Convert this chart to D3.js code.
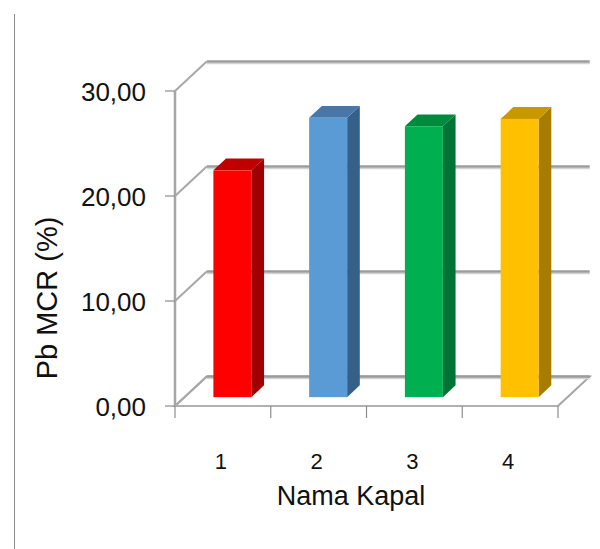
<!DOCTYPE html>
<html>
<head>
<meta charset="utf-8">
<script src="https://cdn.jsdelivr.net/npm/d3@7"></script>
<style>
  html, body { margin: 0; padding: 0; background: #fff; }
  svg { display: block; }
  text { font-family: "Liberation Sans", Arial, sans-serif; fill: #111; }
</style>
</head>
<body>
<script>
// ---- data ----
const categories = ["1", "2", "3", "4"];
const values = [21.6, 26.6, 25.8, 26.5];
const yTicks = [0, 10, 20, 30];
const yTickLabels = ["0,00", "10,00", "20,00", "30,00"];
const yTitle = "Pb MCR (%)";
const xTitle = "Nama Kapal";
const frontColors = ["#FF0000", "#5B9BD5", "#00B050", "#FFC000"];
const sideColors  = ["#A00000", "#376089", "#007434", "#A87C00"];
const topColors   = ["#C00000", "#4677A8", "#008A3E", "#C99700"];

// ---- layout ----
const W = 600, H = 549;
const svg = d3.select("body").append("svg").attr("width", W).attr("height", H);

const x0 = 175, x1 = 558;          // front plane x-range
const depth = { dx: 31.7, dy: -29.5 }; // full depth vector
const x = d3.scaleBand().domain(categories).range([x0, x1]).paddingInner(0).paddingOuter(0);
const y = d3.scaleLinear().domain([0, 30]).range([406, 91]);
const z = (t) => ({ dx: depth.dx * t, dy: depth.dy * t });

// outer border line at left
svg.append("line").attr("x1", 14.5).attr("x2", 14.5).attr("y1", 14).attr("y2", H)
  .attr("stroke", "#8c8c8c").attr("stroke-width", 1);

// floor
const zb = z(1);
svg.append("path")
  .attr("d", `M${x0},${y(0)} L${x1},${y(0)} L${x1 + zb.dx},${y(0) + zb.dy} L${x0 + zb.dx},${y(0) + zb.dy} Z`)
  .attr("fill", "#fff").attr("stroke", "#a6a6a6").attr("stroke-width", 2);

// gridlines: left wall diagonal + back wall horizontal
yTicks.forEach(v => {
  const yy = y(v);
  svg.append("line")
    .attr("x1", x0).attr("y1", yy).attr("x2", x0 + zb.dx).attr("y2", yy + zb.dy)
    .attr("stroke", "#a8a8a8").attr("stroke-width", 2);
  svg.append("line")
    .attr("x1", x0 + zb.dx).attr("y1", yy + zb.dy + 2).attr("x2", x1 + zb.dx).attr("y2", yy + zb.dy + 2)
    .attr("stroke", "#d4d4d4").attr("stroke-width", 1.5);
  svg.append("line")
    .attr("x1", x0 + zb.dx).attr("y1", yy + zb.dy).attr("x2", x1 + zb.dx).attr("y2", yy + zb.dy)
    .attr("stroke", "#9c9c9c").attr("stroke-width", 2.5);
});

// vertical axis line (front)
svg.append("line").attr("x1", x0).attr("x2", x0).attr("y1", y(30)).attr("y2", y(0))
  .attr("stroke", "#a6a6a6").attr("stroke-width", 2.5);

// y ticks + labels
yTicks.forEach((v, i) => {
  svg.append("line").attr("x1", x0 - 10).attr("x2", x0).attr("y1", y(v)).attr("y2", y(v))
    .attr("stroke", "#8c8c8c").attr("stroke-width", 1.2);
  svg.append("text").attr("x", 146).attr("y", y(v) + 10)
    .attr("text-anchor", "end").attr("font-size", 26).text(yTickLabels[i]);
});

// x axis line + ticks
svg.append("line").attr("x1", x0).attr("x2", x1).attr("y1", y(0)).attr("y2", y(0))
  .attr("stroke", "#b0b0b0").attr("stroke-width", 2);
const tickXs = categories.map(c => x(c)).concat([x1]);
tickXs.forEach(tx => {
  svg.append("line").attr("x1", tx).attr("x2", tx).attr("y1", y(0)).attr("y2", y(0) + 12)
    .attr("stroke", "#8c8c8c").attr("stroke-width", 1.2);
});

// bars (3D)
const barW = 38;
const zf = z(0.3), zd = z(0.4);
categories.forEach((c, i) => {
  const bx = x(c) + (x.bandwidth() - barW) / 2 + zf.dx;
  const by0 = y(0) + zf.dy;
  const by1 = y(values[i]) + zf.dy;
  const g = svg.append("g");
  g.append("path")
    .attr("d", `M${bx + barW},${by0} L${bx + barW + zd.dx},${by0 + zd.dy} L${bx + barW + zd.dx},${by1 + zd.dy} L${bx + barW},${by1} Z`)
    .attr("fill", sideColors[i]);
  g.append("path")
    .attr("d", `M${bx},${by1} L${bx + zd.dx},${by1 + zd.dy} L${bx + barW + zd.dx},${by1 + zd.dy} L${bx + barW},${by1} Z`)
    .attr("fill", topColors[i]);
  g.append("rect").attr("x", bx).attr("y", by1).attr("width", barW).attr("height", by0 - by1)
    .attr("fill", frontColors[i]);
});

// category labels
categories.forEach(c => {
  svg.append("text").attr("x", x(c) + x.bandwidth() / 2 - 2).attr("y", 469)
    .attr("text-anchor", "middle").attr("font-size", 22).text(c);
});

// axis titles
svg.append("text").attr("x", 351).attr("y", 505).attr("text-anchor", "middle")
  .attr("font-size", 27).text(xTitle);
svg.append("text").attr("transform", "translate(57,298) rotate(-90)")
  .attr("text-anchor", "middle").attr("font-size", 29).text(yTitle);
</script>
</body>
</html>
